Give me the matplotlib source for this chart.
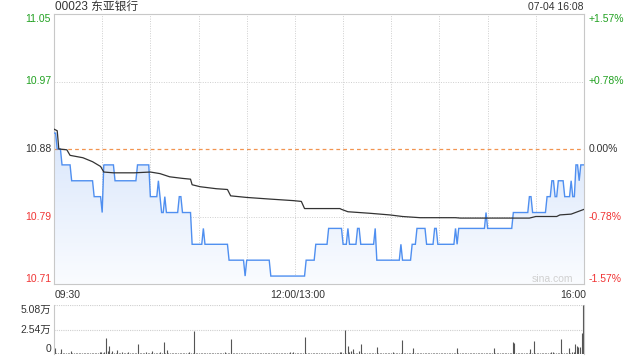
import matplotlib
matplotlib.use("Agg")
import matplotlib.pyplot as plt
import matplotlib.transforms as mtransforms
from matplotlib.colors import LinearSegmentedColormap
import numpy as np

plt.rcParams['font.family'] = ['Liberation Sans', 'Noto Sans CJK SC', 'DejaVu Sans']

# ---------------- data ----------------
title = "00023 东亚银行"
stamp = "07-04 16:08"
prev_close = 10.88
price_min, price_max = 10.71, 11.05
left_ticks = [11.05, 10.965, 10.88, 10.795, 10.71]
left_labels = ["11.05", "10.97", "10.88", "10.79", "10.71"]
right_labels = ["+1.57%", "+0.78%", "0.00%", "-0.78%", "-1.57%"]
time_labels = ["09:30", "12:00/13:00", "16:00"]
vol_tick_labels = ["5.08万", "2.54万", "0"]
vol_max = 50800

# minute price as run-length (price level, number of minutes)
price_levels = [10.90, 10.88, 10.86, 10.84, 10.82, 10.80, 10.86, 10.84, 10.86, 10.82,
                10.84, 10.82, 10.80, 10.82, 10.80, 10.82, 10.80, 10.76, 10.78, 10.76,
                10.74, 10.72, 10.74, 10.72, 10.74, 10.76, 10.78, 10.76, 10.78, 10.76,
                10.78, 10.76, 10.78, 10.74, 10.76, 10.74, 10.76, 10.78, 10.76, 10.78,
                10.76, 10.78, 10.76, 10.78, 10.80, 10.78, 10.80, 10.82, 10.80, 10.82,
                10.84, 10.82, 10.84, 10.82, 10.84, 10.82, 10.86, 10.84, 10.86]
price_runs = [2, 3, 6, 14, 5, 1, 7, 14, 8, 5,
              1, 1, 2, 1, 8, 2, 6, 7, 1, 15,
              10, 1, 15, 22, 6, 8, 9, 3, 1, 5,
              2, 9, 1, 15, 1, 6, 3, 6, 5, 2,
              11, 1, 1, 17, 1, 16, 10, 2, 9, 3,
              2, 2, 4, 4, 1, 2, 2, 1, 3]

# average price line (minute, value)
avg_minutes = [0, 2, 3, 8, 10, 18, 24, 29, 31, 37, 50, 60, 66, 72, 80, 85, 86, 91, 101,
               108, 110, 120, 134, 149, 154, 156, 178, 179, 183, 197, 209, 217, 228,
               250, 253, 296, 300, 313, 315, 322, 330]
avg_values = [10.905, 10.903, 10.880, 10.879, 10.872, 10.869, 10.864, 10.858, 10.851,
              10.850, 10.850, 10.851, 10.849, 10.845, 10.843, 10.842, 10.835, 10.8325,
              10.830, 10.829, 10.821, 10.819, 10.817, 10.815, 10.814, 10.805, 10.805,
              10.804, 10.801, 10.799, 10.797, 10.795, 10.7935, 10.7935, 10.793, 10.793,
              10.795, 10.795, 10.797, 10.798, 10.804]

# per-minute volume (shares)
volume = [
    6500, 1200, 900, 1500, 5000, 800, 1100, 700, 1300, 900, 3000, 1000, 600, 1200, 800,
    1400, 700, 900, 1100, 600, 1300, 800, 1000, 700, 1500, 900, 1200, 600, 1800, 2500,
    1500, 2200, 17000, 3000, 8300, 1200, 3500, 900, 1400, 4000, 1100, 800, 2000, 700, 1300,
    1000, 2500, 900, 600, 1200, 800, 1500, 10500, 1000, 700, 1300, 900, 2000, 1100, 800,
    1200, 3000, 900, 1500, 700, 1100, 2200, 800, 12000, 1300, 4000, 900, 1400, 700, 1000,
    1200, 800, 1500, 600, 1100, 900, 1300, 700, 1000, 2000, 800, 1200, 23500, 1500, 900,
    1100, 700, 1400, 900, 1200, 800, 1000, 1500, 700, 1100, 900, 1300, 800, 1000, 1200,
    700, 1600, 900, 1100, 800, 15800, 1200, 900, 1400, 700, 1000, 1300, 800, 1100, 900,
    1200, 800, 1500, 700, 1000, 1300, 900, 1100, 800, 1400, 700, 1000, 1200, 900, 1500,
    800, 1100, 700, 1300, 1000, 900, 1200, 800, 1400, 700, 1100, 1000, 1600, 900, 2200,
    1300, 900, 1100, 800, 1500, 1000, 18000, 1200, 900, 1400, 700, 1100, 1000, 1300, 800,
    1200, 900, 1500, 700, 1000, 1100, 800, 1400, 900, 1200, 1000, 700, 1300, 1600, 2000,
    1500, 24500, 1200, 8000, 1800, 3000, 5000, 1000, 1400, 900, 3000, 10000, 1200, 800, 1100,
    1500, 900, 1300, 700, 1200, 1000, 7000, 1100, 800, 1400, 900, 1200, 1000, 700, 1300,
    1100, 2500, 900, 1400, 800, 1200, 1000, 14800, 1500, 900, 1100, 800, 1300, 1000, 6700,
    1200, 900, 1400, 800, 1100, 1000, 1300, 700, 1200, 900, 1500, 800, 1000, 1200, 900,
    1100, 800, 1400, 1000, 700, 1300, 900, 1200, 800, 1000, 1500, 6300, 900, 1100, 800,
    1300, 1000, 700, 1200, 900, 1400, 800, 1100, 1000, 700, 1300, 900, 1200, 800, 1000,
    1500, 900, 1100, 800, 6000, 1200, 1000, 700, 1300, 900, 1100, 800, 1400, 1000, 900,
    1200, 12600, 11300, 1000, 800, 1300, 900, 1100, 1500, 800, 1200, 1000, 4700, 900, 13700,
    1200, 1000, 800, 1400, 900, 1100, 1300, 800, 1500, 1000, 2500, 2000, 1200, 900, 1400,
    1000, 15600, 1100, 800, 1300, 1500, 6000, 1200, 1800, 2000, 10700, 8300, 7300, 7300, 21700,
    50800]

# ---------------- figure ----------------
prices = np.repeat(price_levels, price_runs)
minutes = np.arange(len(prices))
n_total = 330

W, H = 640, 360
fig = plt.figure(figsize=(W / 100, H / 100), dpi=100)
fig.patch.set_facecolor('white')

def rect(l, t, r, b):
    return [l / W, 1 - b / H, (r - l) / W, (b - t) / H]

ax = fig.add_axes(rect(54, 14, 584, 284))
axv = fig.add_axes(rect(54, 305, 584, 354))

green = '#21a121'
red = '#f03434'
dark = '#333333'
gridc = '#cfcfcf'
borderc = '#c8c8c8'

# main chart
ax.set_xlim(0, n_total)
ax.set_ylim(price_min, price_max)
ax.set_xticks([])
ax.set_yticks([])
for s in ax.spines.values():
    s.set_color(borderc)
    s.set_linewidth(0.8)

for m in range(30, n_total, 30):
    ax.axvline(m, color=gridc, lw=0.7, ls=(0, (1, 1.5)), zorder=1)
for v in [10.965, 10.795]:
    ax.axhline(v, color=gridc, lw=0.7, ls=(0, (1, 1.5)), zorder=1)
ax.axhline(prev_close, color='#f29450', lw=0.9, ls=(0, (3, 2.5)), zorder=2)

# gradient fill under price
poly = ax.fill_between(minutes, prices, price_min, color='none', lw=0)
grad = np.linspace(1, 0, 256).reshape(-1, 1)
cmap = LinearSegmentedColormap.from_list('g', ['#fafcff', '#d9e6fb'])
im = ax.imshow(grad, extent=[0, n_total, price_min, max(prices)], aspect='auto',
               cmap=cmap, origin='upper', zorder=1.5, interpolation='bilinear')
paths = poly.get_paths()
if paths:
    im.set_clip_path(paths[0], transform=ax.transData)

ax.plot(minutes, prices, color='#4f8ff0', lw=1.0, zorder=3, solid_joinstyle='miter')
ax.plot(avg_minutes, avg_values, color=dark, lw=0.9, zorder=4)

ax.text(0.98, 0.0, 'sina.com', transform=ax.transAxes, ha='right', va='bottom',
        fontsize=7.5, color='#d0d0d0')

# axis labels
trL = mtransforms.blended_transform_factory(fig.transFigure, ax.transData)
lcolors = [green, green, dark, red, red]
for i, (v, lab, rlab, c) in enumerate(zip(left_ticks, left_labels, right_labels, lcolors)):
    va = 'top' if i == 0 else ('bottom' if i == len(left_ticks) - 1 else 'center')
    ax.text(51 / W, v, lab, transform=trL, ha='right', va=va, fontsize=7.5, color=c)
    ax.text(589 / W, v, rlab, transform=trL, ha='left', va=va, fontsize=7.5, color=c)

fig.text(55 / W, 1 - 7 / H, title, ha='left', va='center', fontsize=8.5, color=dark)
fig.text(584 / W, 1 - 7 / H, stamp, ha='right', va='center', fontsize=7.5, color=dark)

fig.text(55 / W, 1 - 295 / H, time_labels[0], ha='left', va='center', fontsize=7.5, color=dark)
fig.text(298 / W, 1 - 295 / H, time_labels[1], ha='center', va='center', fontsize=7.5, color=dark)
fig.text(586 / W, 1 - 295 / H, time_labels[2], ha='right', va='center', fontsize=7.5, color=dark)

# volume chart
axv.set_xlim(-0.5, n_total + 0.5)
axv.set_ylim(0, vol_max)
axv.set_xticks([])
axv.set_yticks([])
for k in ['top', 'bottom']:
    axv.spines[k].set_visible(False)
for k in ['left', 'right']:
    axv.spines[k].set_color(borderc)
    axv.spines[k].set_linewidth(0.8)
axv.axhline(vol_max, color=gridc, lw=0.8, ls=(0, (1, 1)))
axv.axhline(vol_max / 2, color=gridc, lw=0.8, ls=(0, (1, 1)))
axv.vlines(np.arange(len(volume)), 0, volume, color='#555555', lw=0.8)

trV = mtransforms.blended_transform_factory(fig.transFigure, axv.transData)
axv.text(51 / W, vol_max, vol_tick_labels[0], transform=trV, ha='right', va='top', fontsize=7.5, color=dark)
axv.text(51 / W, vol_max / 2, vol_tick_labels[1], transform=trV, ha='right', va='center', fontsize=7.5, color=dark)
axv.text(51 / W, 0, vol_tick_labels[2], transform=trV, ha='right', va='bottom', fontsize=7.5, color=dark)

fig.savefig('out.png', dpi=100, facecolor='white')
